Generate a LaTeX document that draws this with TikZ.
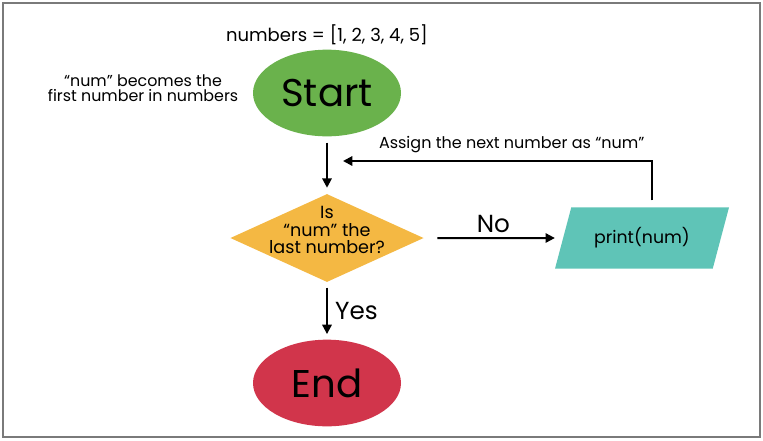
\documentclass[tikz,border=0pt]{standalone}
\usepackage{fontspec}
\setmainfont{Poppins}
\usetikzlibrary{arrows.meta, positioning, shapes.geometric}
\definecolor{startgreen}{HTML}{6AB24C}
\definecolor{decyellow}{HTML}{F4B843}
\definecolor{ioteal}{HTML}{5FC4B7}
\definecolor{endred}{HTML}{D1354B}
\definecolor{framegray}{HTML}{7A7A7A}
\tikzset{
  terminal/.style={
    ellipse, draw=none, inner sep=0pt,
    minimum width=111pt, minimum height=65pt,
    font=\fontsize{29}{32}\selectfont
  },
  decision/.style={
    diamond, draw=none, fill=decyellow, inner sep=0pt,
    minimum width=145pt, minimum height=66pt
  },
  iobox/.style={
    trapezium, trapezium left angle=62, trapezium right angle=118,
    trapezium stretches=true, draw=none, fill=ioteal,
    minimum width=131pt, minimum height=46pt, inner sep=0pt,
    font=\fontsize{13}{16}\selectfont
  },
  note/.style={font=\fontsize{10}{12}\selectfont, align=center},
  branch/.style={font=\fontsize{18.5}{20}\selectfont},
  arrow/.style={-{Triangle[length=7pt,width=7pt]}, line width=1.5pt, draw=black},
}
\begin{document}
\begin{tikzpicture}[x=0.75pt, y=-0.75pt]
  \useasboundingbox (0,0) rectangle (763,440);
  \draw[framegray, line width=1.5pt] (2.5,3) rectangle (759.5,437);

  \node[terminal, fill=startgreen] (start) at (327,93) {Start};
  \node[decision] (dec) at (327,238) {};
  \node[note, font=\fontsize{13.2}{13.2}\selectfont] (dectext) at (327,230) {Is\\“num” the\\last number?};
  \node[iobox] (print) at (642,238) {print(num)};
  \node[terminal, fill=endred] (end) at (327,383) {End};

  \node[note, font=\fontsize{13.5}{15}\selectfont] (list) at (327,35) {numbers = [1, 2, 3, 4, 5]};
  \node[note, font=\fontsize{11.9}{11.5}\selectfont] (first) at (143,88) {“num” becomes the\\first number in numbers};

  \coordinate (loopend) at (343,161);

  \draw[arrow, shorten <=4.5pt, shorten >=4.5pt] (start) -- (dec);
  \draw[arrow, shorten <=10pt, shorten >=6pt] (dec) -- node[branch, above=0pt] (no) {No} (print);
  \draw[arrow] ([xshift=7.5pt, yshift=5pt]print.north) |- node[note, font=\fontsize{12}{14}\selectfont, pos=0.727, above=2pt] (assign) {Assign the next number as “num”} (loopend);
  \draw[arrow, shorten <=4pt, shorten >=4pt] (dec) -- node[branch, right=2pt] (yes) {Yes} (end);
\end{tikzpicture}
\end{document}
